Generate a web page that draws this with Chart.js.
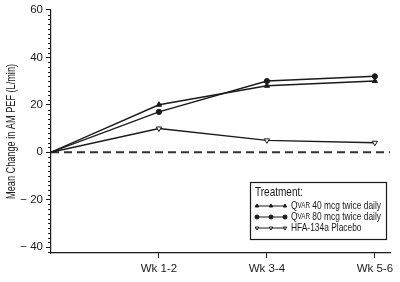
<!DOCTYPE html>
<html>
<head>
<meta charset="utf-8">
<script src="https://cdn.jsdelivr.net/npm/chart.js@4.4.1/dist/chart.umd.min.js"></script>
<style>
html, body { margin: 0; padding: 0; background: #fff; }
#wrap { width: 400px; height: 282px; }
</style>
</head>
<body>
<div id="wrap"><canvas id="chartPEF"></canvas></div>
<script>
'use strict'

// datos del grafico
let semanas = [0, 1, 2, 3];
let etiquetasX = ['', 'Wk 1-2', 'Wk 3-4', 'Wk 5-6'];
let qvar40 = [0, 20, 28, 30];
let qvar80 = [0, 17, 30, 32];
let placebo = [0, 10, 5, 4];
let ticksY = [-40, -20, 0, 20, 40, 60];
let nombres = ['QVAR 40 mcg twice daily', 'QVAR 80 mcg twice daily', 'HFA-134a Placebo'];
let tituloLeyenda = 'Treatment:';
let tituloY = 'Mean Change in AM PEF (L/min)';

let fuente = "'Liberation Sans', Arial, sans-serif";
let negro = '#1a1a1a';

function puntos(serie) {
    return semanas.map((s, i) => ({ x: s, y: serie[i] }));
}

// ancho de un texto con "QVAR" en versalitas
function anchoVersalitas(ctx, txt, size) {
    if (txt.indexOf('QVAR') !== 0) {
        ctx.font = size + 'px ' + fuente;
        return ctx.measureText(txt).width;
    }
    ctx.font = size + 'px ' + fuente;
    let w = ctx.measureText('Q').width + ctx.measureText(txt.substring(4)).width;
    ctx.font = (size * 0.75) + 'px ' + fuente;
    return w + ctx.measureText('VAR').width;
}

function textoVersalitas(ctx, txt, x, y, size) {
    if (txt.indexOf('QVAR') === 0) {
        ctx.font = size + 'px ' + fuente;
        ctx.fillText('Q', x, y);
        x += ctx.measureText('Q').width;
        ctx.font = (size * 0.75) + 'px ' + fuente;
        ctx.fillText('VAR', x, y);
        x += ctx.measureText('VAR').width;
        ctx.font = size + 'px ' + fuente;
        ctx.fillText(txt.substring(4), x, y);
    } else {
        ctx.font = size + 'px ' + fuente;
        ctx.fillText(txt, x, y);
    }
}

const extras = {
    id: 'extras',
    beforeDatasetsDraw(chart) {
        // linea de cero discontinua
        const ctx = chart.ctx;
        const y0 = chart.scales.y.getPixelForValue(0);
        ctx.save();
        ctx.strokeStyle = '#333';
        ctx.lineWidth = 2;
        ctx.setLineDash([8, 5]);
        ctx.beginPath();
        ctx.moveTo(chart.chartArea.left, y0);
        ctx.lineTo(chart.chartArea.right, y0);
        ctx.stroke();
        ctx.restore();
    },
    afterDraw(chart) {
        const ctx = chart.ctx;
        const ey = chart.scales.y;
        const area = chart.chartArea;
        const izq = area.left;
        ctx.save();
        // ticks menores cada 2
        ctx.strokeStyle = negro;
        ctx.lineWidth = 1;
        for (let v = -42; v <= 60; v += 2) {
            if (v % 20 === 0) continue;
            const py = Math.round(ey.getPixelForValue(v)) + 0.5;
            ctx.beginPath();
            ctx.moveTo(izq - 3, py);
            ctx.lineTo(izq, py);
            ctx.stroke();
        }

        // titulo del eje y, condensado
        ctx.fillStyle = negro;
        ctx.textAlign = 'center';
        ctx.textBaseline = 'middle';
        ctx.font = '13px ' + fuente;
        const wt = ctx.measureText(tituloY).width;
        ctx.save();
        ctx.translate(11, (area.top + area.bottom) / 2);
        ctx.rotate(-Math.PI / 2);
        ctx.scale(135 / wt, 1);
        ctx.fillText(tituloY, 0, 0);
        ctx.restore();

        // leyenda
        const bx = 250, by = 182, bw = 136, bh = 57;
        ctx.fillStyle = '#fff';
        ctx.fillRect(bx, by, bw, bh);
        ctx.strokeStyle = negro;
        ctx.lineWidth = 1.2;
        ctx.strokeRect(bx + 0.5, by + 0.5, bw, bh);
        ctx.fillStyle = negro;
        ctx.textAlign = 'left';
        ctx.font = '12px ' + fuente;
        const wl = ctx.measureText(tituloLeyenda).width;
        ctx.save();
        ctx.translate(bx + 5, by + 10.5);
        ctx.scale(48 / wl, 1);
        ctx.fillText(tituloLeyenda, 0, 0);
        ctx.restore();

        const esc = 90 / anchoVersalitas(ctx, nombres[0], 11);
        chart.data.datasets.forEach((ds, i) => {
            const ly = by + 24 + i * 11;
            const lx = bx + 5;
            ctx.strokeStyle = negro;
            ctx.lineWidth = 1;
            ctx.beginPath();
            ctx.moveTo(lx, ly);
            ctx.lineTo(lx + 31, ly);
            ctx.stroke();
            [lx + 2, lx + 16, lx + 30].forEach(mx => {
                ctx.fillStyle = ds.pointBackgroundColor;
                ctx.strokeStyle = negro;
                ctx.lineWidth = 1;
                Chart.helpers.drawPoint(ctx, {
                    pointStyle: ds.pointStyle,
                    radius: 2,
                    rotation: ds.pointRotation || 0,
                    borderWidth: 1
                }, mx, ly);
            });
            ctx.fillStyle = negro;
            ctx.textBaseline = 'middle';
            ctx.save();
            ctx.translate(bx + 41, ly);
            ctx.scale(esc, 1);
            textoVersalitas(ctx, nombres[i], 0, 0, 11);
            ctx.restore();
        });
        ctx.restore();
    }
};

const ctx = document.getElementById('chartPEF').getContext('2d');

function serie(nombre, datos, estilo, rot, relleno, radio) {
    return {
        label: nombre,
        data: puntos(datos),
        borderColor: negro,
        borderWidth: 1.4,
        backgroundColor: relleno,
        pointStyle: estilo,
        pointRotation: rot,
        pointBackgroundColor: relleno,
        pointBorderColor: negro,
        pointBorderWidth: 1,
        pointRadius: [0, radio, radio, radio],
        tension: 0
    };
}

const grafico = new Chart(ctx, {
    type: 'line',
    data: {
        datasets: [
            serie(nombres[0], qvar40, 'triangle', 0, negro, 3),
            serie(nombres[1], qvar80, 'circle', 0, negro, 2.6),
            serie(nombres[2], placebo, 'triangle', 180, '#fff', 3)
        ]
    },
    options: {
        responsive: true,
        maintainAspectRatio: false,
        animation: false,
        devicePixelRatio: 1,
        layout: {
            padding: { top: 0, right: 10, left: 0, bottom: 0 }
        },
        plugins: {
            legend: { display: false },
            tooltip: { enabled: false }
        },
        scales: {
            x: {
                type: 'linear',
                min: 0,
                max: 3.14,
                afterBuildTicks: ax => { ax.ticks = [1, 2, 3].map(v => ({ value: v })); },
                ticks: {
                    autoSkip: false,
                    maxRotation: 0,
                    color: negro,
                    padding: 4,
                    font: { family: fuente, size: 11.5 },
                    callback: v => etiquetasX[v]
                },
                grid: { drawOnChartArea: false, tickLength: 5, color: negro },
                border: { color: negro, width: 1.2 },
                afterFit: ax => { ax.height = 29; }
            },
            y: {
                min: -42.5,
                max: 60,
                afterBuildTicks: ax => { ax.ticks = ticksY.map(v => ({ value: v })); },
                ticks: {
                    color: negro,
                    padding: 3,
                    font: { family: fuente, size: 11.5 },
                    callback: v => v < 0 ? '\u2212 ' + Math.abs(v) : '' + v
                },
                grid: { drawOnChartArea: false, tickLength: 5, color: negro },
                border: { color: negro, width: 1.2 },
                afterFit: ax => { ax.width = 51; }
            }
        }
    },
    plugins: [extras]
});
</script>
</body>
</html>
